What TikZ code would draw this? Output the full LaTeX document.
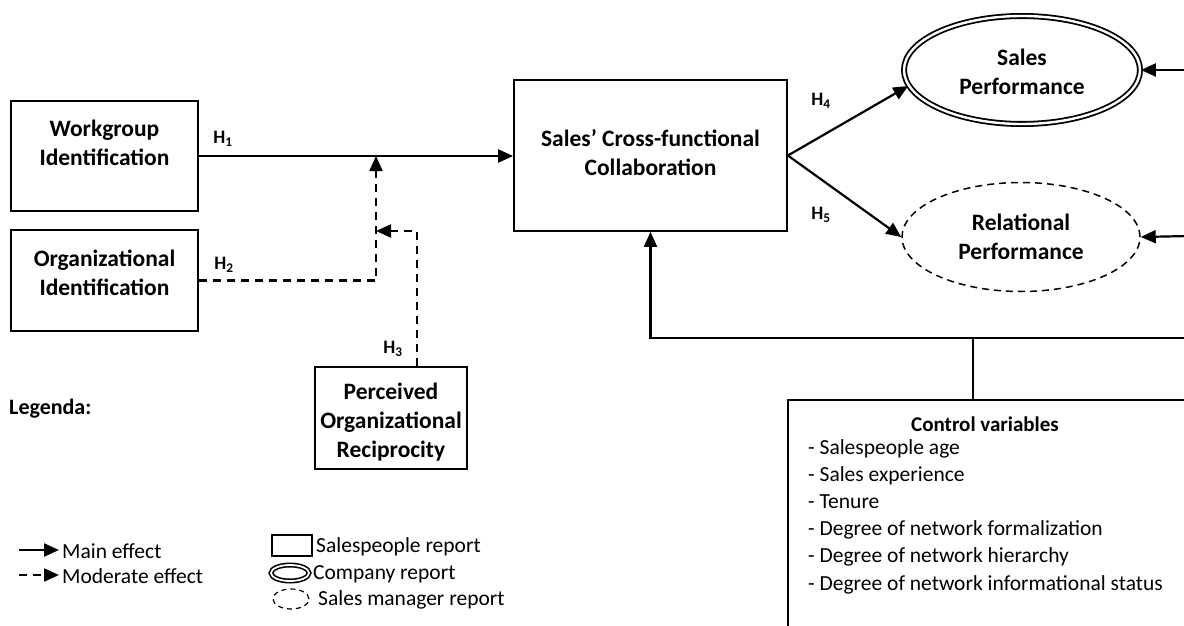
\documentclass[tikz,border=0pt]{standalone}
\usepackage{fontspec}
\setmainfont{Carlito}
\usetikzlibrary{shapes,arrows,arrows.meta}
\usetikzlibrary{positioning}

\begin{document}
\begin{tikzpicture}[x=1pt,y=-1pt,
    every node/.style={inner sep=0pt},
    box/.style={draw,line width=1.8pt,rectangle},
    lbl/.style={font=\fontsize{23.5}{29}\selectfont\bfseries,align=center},
    hyp/.style={font=\fontsize{19}{20}\selectfont\bfseries},
    txt/.style={font=\fontsize{21.5}{27.2}\selectfont,align=left},
    main/.style={line width=2.2pt,-{Triangle[length=15pt,width=13pt]}},
    moder/.style={main,dash pattern=on 8pt off 6pt}]
    \useasboundingbox (0,0) rectangle (1184,626);
    \clip (0,0) rectangle (1184,626);
    % antecedents
    \node[box,minimum width=187,minimum height=110] (wid) at (104.5,156) {};
    \node[lbl] (widtxt) at (104.5,143) {Workgroup\\Identification};
    \node[box,minimum width=187,minimum height=101] (oid) at (104.5,280.5) {};
    \node[lbl] (oidtxt) at (104.5,273) {Organizational\\Identification};
    \node[box,minimum width=152,minimum height=102] (por) at (391,418) {};
    \node[lbl] (portxt) at (391,422) {Perceived\\Organizational\\Reciprocity};
    % mediator
    \node[box,minimum width=273,minimum height=151] (col) at (650.5,155.5) {};
    \node[lbl] (coltxt) at (650.5,153) {Sales’ Cross-functional\\Collaboration};
    % outcomes
    \node[draw,ellipse,double,double distance=2.4pt,line width=1.8pt,
          minimum width=236,minimum height=108] (sp) at (1022,70) {};
    \node[lbl] (sptxt) at (1022,72) {Sales\\Performance};
    \node[draw,ellipse,dashed,dash pattern=on 7pt off 5pt,line width=1.5pt,
          minimum width=238,minimum height=109] (rp) at (1021,237) {};
    \node[lbl] (rptxt) at (1021,237) {Relational\\Performance};
    % controls
    \node[box,minimum width=460,minimum height=300,anchor=north west] (ctrl) at (787,399) {};
    \node[font=\fontsize{21}{24}\selectfont\bfseries] (ctrlttl) at (985,424) {Control variables};
    \node[txt,anchor=north west] (ctrllst) at (808,439) {- Salespeople age\\- Sales experience\\- Tenure\\
        - Degree of network formalization\\- Degree of network hierarchy\\- Degree of network informational status};
    % paths
    \coordinate (m1) at (376,156);
    \coordinate (m2) at (376,231);
    \draw[main] (wid.east |- m1) -- (col.west |- m1);
    \draw[moder] (oid.east) -| (m1);
    \draw[moder] ([xshift=26]por.north) |- (m2);
    \draw[main] (col.east) -- (sp.188);
    \draw[main] (col.east) -- (rp.west);
    \coordinate (r1) at (1190,70);
    \coordinate (r2) at (1190,236);
    \coordinate (r3) at (1190,338);
    \coordinate (j) at (973,338);
    \draw[main] (r1) -- (sp.east);
    \draw[main] (r2) -- (rp.east);
    \draw[main] (r3) -| (col.south);
    \draw[line width=2.2pt] (j |- ctrl.north) -- (j);
    \node[hyp] (h1) at (223,139) {H\textsubscript{1}};
    \node[hyp] (h2) at (224,265) {H\textsubscript{2}};
    \node[hyp] (h3) at (393,349) {H\textsubscript{3}};
    \node[hyp] (h4) at (821,101) {H\textsubscript{4}};
    \node[hyp] (h5) at (821,215) {H\textsubscript{5}};
    % legend
    \node[font=\fontsize{22}{24}\selectfont\bfseries,anchor=west] (leg) at (9,409) {Legenda:};
    \coordinate (la1) at (19,550); \coordinate (lb1) at (59,550);
    \coordinate (la2) at (19,575); \coordinate (lb2) at (59,575);
    \draw[main] (la1) -- (lb1);
    \draw[moder] (la2) -- (lb2);
    \node[txt,anchor=west] (lmain) at (62,551) {Main effect};
    \node[txt,anchor=west] (lmod) at (62,576) {Moderate effect};
    \node[box,line width=1.5pt,minimum width=40,minimum height=21] (lbox) at (292,545.5) {};
    \node[txt,anchor=west] (lsp) at (316,547) {Salespeople report};
    \node[draw,ellipse,double,double distance=1.8pt,line width=1.6pt,
          minimum width=38,minimum height=16] (lell) at (290,573) {};
    \node[txt,anchor=west] (lcom) at (313,574) {Company report};
    \node[draw,ellipse,dash pattern=on 5pt off 4pt,line width=1.2pt,
          minimum width=36,minimum height=20] (ldash) at (291,599) {};
    \node[txt,anchor=west] (lman) at (318,600) {Sales manager report};
\end{tikzpicture}
\end{document}
